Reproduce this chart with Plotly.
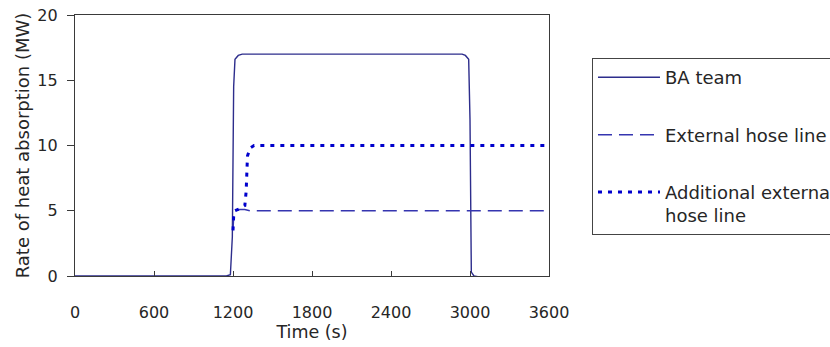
import plotly.graph_objects as go

# ---- data ----
ba_time = [0, 1150, 1180, 1195, 1205, 1215, 1240, 1270, 1300, 2940, 2965, 2990, 3000, 3010, 3030, 3060, 3600]
ba_rate = [0, 0, 0.1, 3.0, 14.5, 16.6, 16.9, 17.0, 17.0, 17.0, 16.9, 16.6, 12.0, 0.3, 0.0, -0.05, -0.05]

ext_time = [1200, 1206, 1215, 1250, 1290, 1330, 3600]
ext_rate = [3.5, 4.8, 5.0, 5.1, 5.1, 5.0, 5.0]

add_time = [1200, 1206, 1215, 1260, 1290, 1300, 1310, 1330, 1360, 1400, 3600]
add_rate = [3.5, 4.8, 5.0, 5.2, 5.4, 6.5, 9.2, 9.8, 10.0, 10.0, 10.0]

series_names = ["BA team", "External hose line", "Additional external<br>hose line"]
x_ticks = [0, 600, 1200, 1800, 2400, 3000, 3600]
y_ticks = [0, 5, 10, 15, 20]

FONT = "DejaVu Sans"
TXT = "#262626"
AX = "#3a3a3a"

fig = go.Figure()
fig.add_trace(go.Scatter(x=ba_time, y=ba_rate, mode="lines", name=series_names[0],
                         legendgroup="a",
                         line=dict(color="#2d2d8c", width=1.4)))
fig.add_trace(go.Scatter(x=ext_time, y=ext_rate, mode="lines", name=series_names[1],
                         legendgroup="b",
                         line=dict(color="#3535b0", width=1.5, dash="14px,7px")))
fig.add_trace(go.Scatter(x=add_time, y=add_rate, mode="lines", name=series_names[2],
                         legendgroup="c",
                         line=dict(color="#0000cc", width=3, dash="4px,6px")))

fig.update_layout(
    width=830, height=347,
    margin=dict(l=75, r=281, t=15, b=71, autoexpand=False),
    paper_bgcolor="white", plot_bgcolor="white",
    font=dict(family=FONT, size=16, color=TXT),
    showlegend=True,
    legend=dict(
        x=1.0907, y=0.835, xanchor="left", yanchor="top",
        bordercolor="#444444", borderwidth=1, bgcolor="white",
        font=dict(family=FONT, size=18, color=TXT),
        itemwidth=62, tracegroupgap=31, valign="top",
        traceorder="grouped",
    ),
    xaxis=dict(
        range=[0, 3600], tickvals=x_ticks, ticktext=[str(v) for v in x_ticks],
        showgrid=False, zeroline=False,
        showline=True, linecolor=AX, linewidth=1.3, mirror=True,
        ticks="inside", ticklen=5, tickcolor=AX, tickwidth=1,
        ticklabelstandoff=22,
        tickfont=dict(family=FONT, size=16, color=TXT),
        title=dict(text="Time (s)", font=dict(family=FONT, size=17.5, color=TXT), standoff=0),
    ),
    yaxis=dict(
        range=[0, 20], tickvals=y_ticks, ticktext=[str(v) for v in y_ticks],
        showgrid=False, zeroline=False,
        showline=True, linecolor=AX, linewidth=1.3, mirror=True,
        ticks="outside", ticklen=7, tickcolor=AX, tickwidth=1,
        ticklabelstandoff=6,
        tickfont=dict(family=FONT, size=16, color=TXT),
        title=dict(text="Rate of heat absorption (MW)", font=dict(family=FONT, size=18, color=TXT), standoff=2),
    ),
)

fig.write_html("out.html")
